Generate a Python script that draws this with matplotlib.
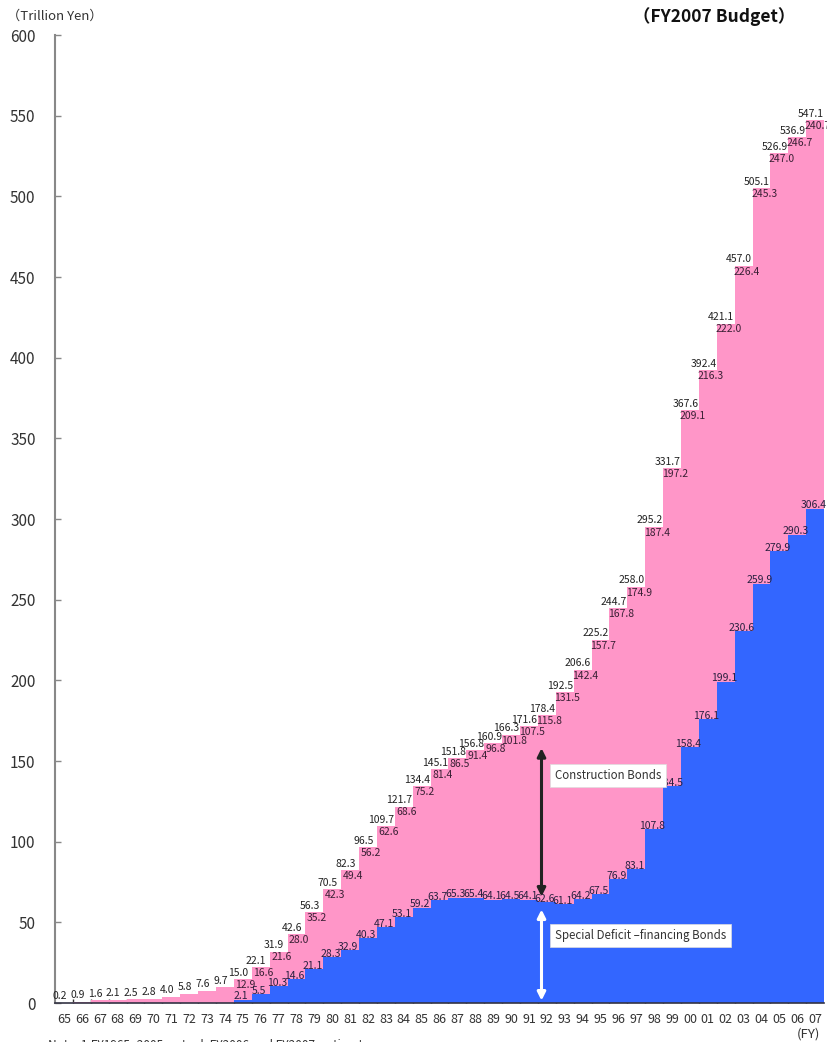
import matplotlib
matplotlib.use("Agg")
import matplotlib.pyplot as plt

plt.rcParams['font.family'] = ['Noto Sans CJK JP', 'DejaVu Sans']

years = ['65', '66', '67', '68', '69', '70', '71', '72', '73', '74',
         '75', '76', '77', '78', '79', '80', '81', '82', '83', '84',
         '85', '86', '87', '88', '89', '90', '91', '92', '93', '94',
         '95', '96', '97', '98', '99', '00', '01', '02', '03', '04',
         '05', '06', '07']

total = [0.2, 0.9, 1.6, 2.1, 2.5, 2.8, 4.0, 5.8, 7.6, 9.7,
         15.0, 22.1, 31.9, 42.6, 56.3, 70.5, 82.3, 96.5, 109.7, 121.7,
         134.4, 145.1, 151.8, 156.8, 160.9, 166.3, 171.6, 178.4, 192.5, 206.6,
         225.2, 244.7, 258.0, 295.2, 331.7, 367.6, 392.4, 421.1, 457.0, 505.1,
         526.9, 536.9, 547.1]

# special deficit-financing bonds
deficit = [0.2, 0, 0, 0, 0, 0, 0, 0, 0, 0,
           2.1, 5.5, 10.3, 14.6, 21.1, 28.3, 32.9, 40.3, 47.1, 53.1,
           59.2, 63.7, 65.3, 65.4, 64.1, 64.5, 64.1, 62.6, 61.1, 64.2,
           67.5, 76.9, 83.1, 107.8, 134.5, 158.4, 176.1, 199.1, 230.6, 259.9,
           279.9, 290.3, 306.4]

# construction bonds
construction = [0.0, 0.9, 1.6, 2.1, 2.5, 2.8, 4.0, 5.8, 7.6, 9.7,
                12.9, 16.6, 21.6, 28.0, 35.2, 42.3, 49.4, 56.2, 62.6, 68.6,
                75.2, 81.4, 86.5, 91.4, 96.8, 101.8, 107.5, 115.8, 131.5, 142.4,
                157.7, 167.8, 174.9, 187.4, 197.2, 209.1, 216.3, 222.0, 226.4, 245.3,
                247.0, 246.7, 240.7]

pink = '#ff96c8'
blue = '#3366ff'

fig = plt.figure(figsize=(8.27, 10.42), dpi=100)
ax = fig.add_axes([0.0665, 0.0374, 0.930, 0.929])

x = list(range(len(years)))
ax.bar(x, deficit, width=1.0, color=blue, linewidth=0, zorder=2)
ax.bar(x, construction, width=1.0, bottom=deficit, color=pink, linewidth=0, zorder=2)

for i in x:
    ax.text(i - 0.25, total[i] + 0.8, f'{total[i]:.1f}', ha='center', va='bottom',
            fontsize=7.5, color='#222222', zorder=4)
    if i >= 10:
        ax.text(i + 0.15, total[i] - 0.5, f'{construction[i]:.1f}', ha='center', va='top',
                fontsize=7.5, color='#3a2035', zorder=4)
        ax.text(i - 0.1, deficit[i] - 1.0, f'{deficit[i]:.1f}', ha='center', va='bottom',
                fontsize=7.5, color='#2a2040', zorder=4)

# arrows
ax.annotate('', xy=(26.7, 158), xytext=(26.7, 66),
            arrowprops=dict(arrowstyle='<|-|>', color='#222222', lw=2.2,
                            mutation_scale=12, shrinkA=0, shrinkB=0), zorder=5)
ax.annotate('', xy=(26.7, 58), xytext=(26.7, 1.5),
            arrowprops=dict(arrowstyle='<|-|>', color='white', lw=2.2,
                            mutation_scale=12, shrinkA=0, shrinkB=0), zorder=5)

ax.text(27.45, 141, 'Construction Bonds', ha='left', va='center', fontsize=8.3,
        color='#333333', zorder=6,
        bbox=dict(boxstyle='square,pad=0.45', fc='white', ec='#dddddd', lw=0.5))
ax.text(27.45, 42, 'Special Deficit \u2013financing Bonds', ha='left', va='center',
        fontsize=8.3, color='#333333', zorder=6,
        bbox=dict(boxstyle='square,pad=0.45', fc='white', ec='#dddddd', lw=0.5))

ax.set_xlim(-0.5, 42.5)
ax.set_ylim(0, 600)
ax.set_yticks(range(0, 601, 50))
ax.tick_params(axis='y', direction='in', length=4, width=1, color='#888888',
               labelsize=11, labelcolor='#333333', pad=14)
ax.set_xticks(x)
ax.set_xticklabels(years)
ax.set_xticks([i + 0.5 for i in x[:-1]], minor=True)
ax.tick_params(axis='x', which='major', length=0, labelsize=9,
               labelcolor='#333333', pad=7)
ax.tick_params(axis='x', which='minor', direction='in', length=3, width=1,
               color='#333333')

for s in ['top', 'right']:
    ax.spines[s].set_visible(False)
ax.spines['left'].set_color('#888888')
ax.spines['left'].set_linewidth(1.5)
ax.spines['bottom'].set_color('#333344')
ax.spines['bottom'].set_linewidth(1.2)
ax.spines['left'].set_zorder(3)
ax.spines['bottom'].set_zorder(3)

fig.text(0.008, 0.984, '\uff08Trillion Yen\uff09', ha='left', va='center',
         fontsize=9.5, color='#333333')
fig.text(0.765, 0.984, '\uff08FY2007 Budget\uff09', ha='left', va='center',
         fontsize=12.5, fontweight='bold', color='#111111')
fig.text(0.963, 0.008, '(FY)', ha='left', va='center', fontsize=9.5, color='#333333')
fig.text(0.058, -0.003, 'Note: 1.FY1965- 2005: actual, FY2006 and FY2007: estimates',
         ha='left', va='center', fontsize=8.5, color='#333333')

fig.savefig('out.png', dpi=100)
